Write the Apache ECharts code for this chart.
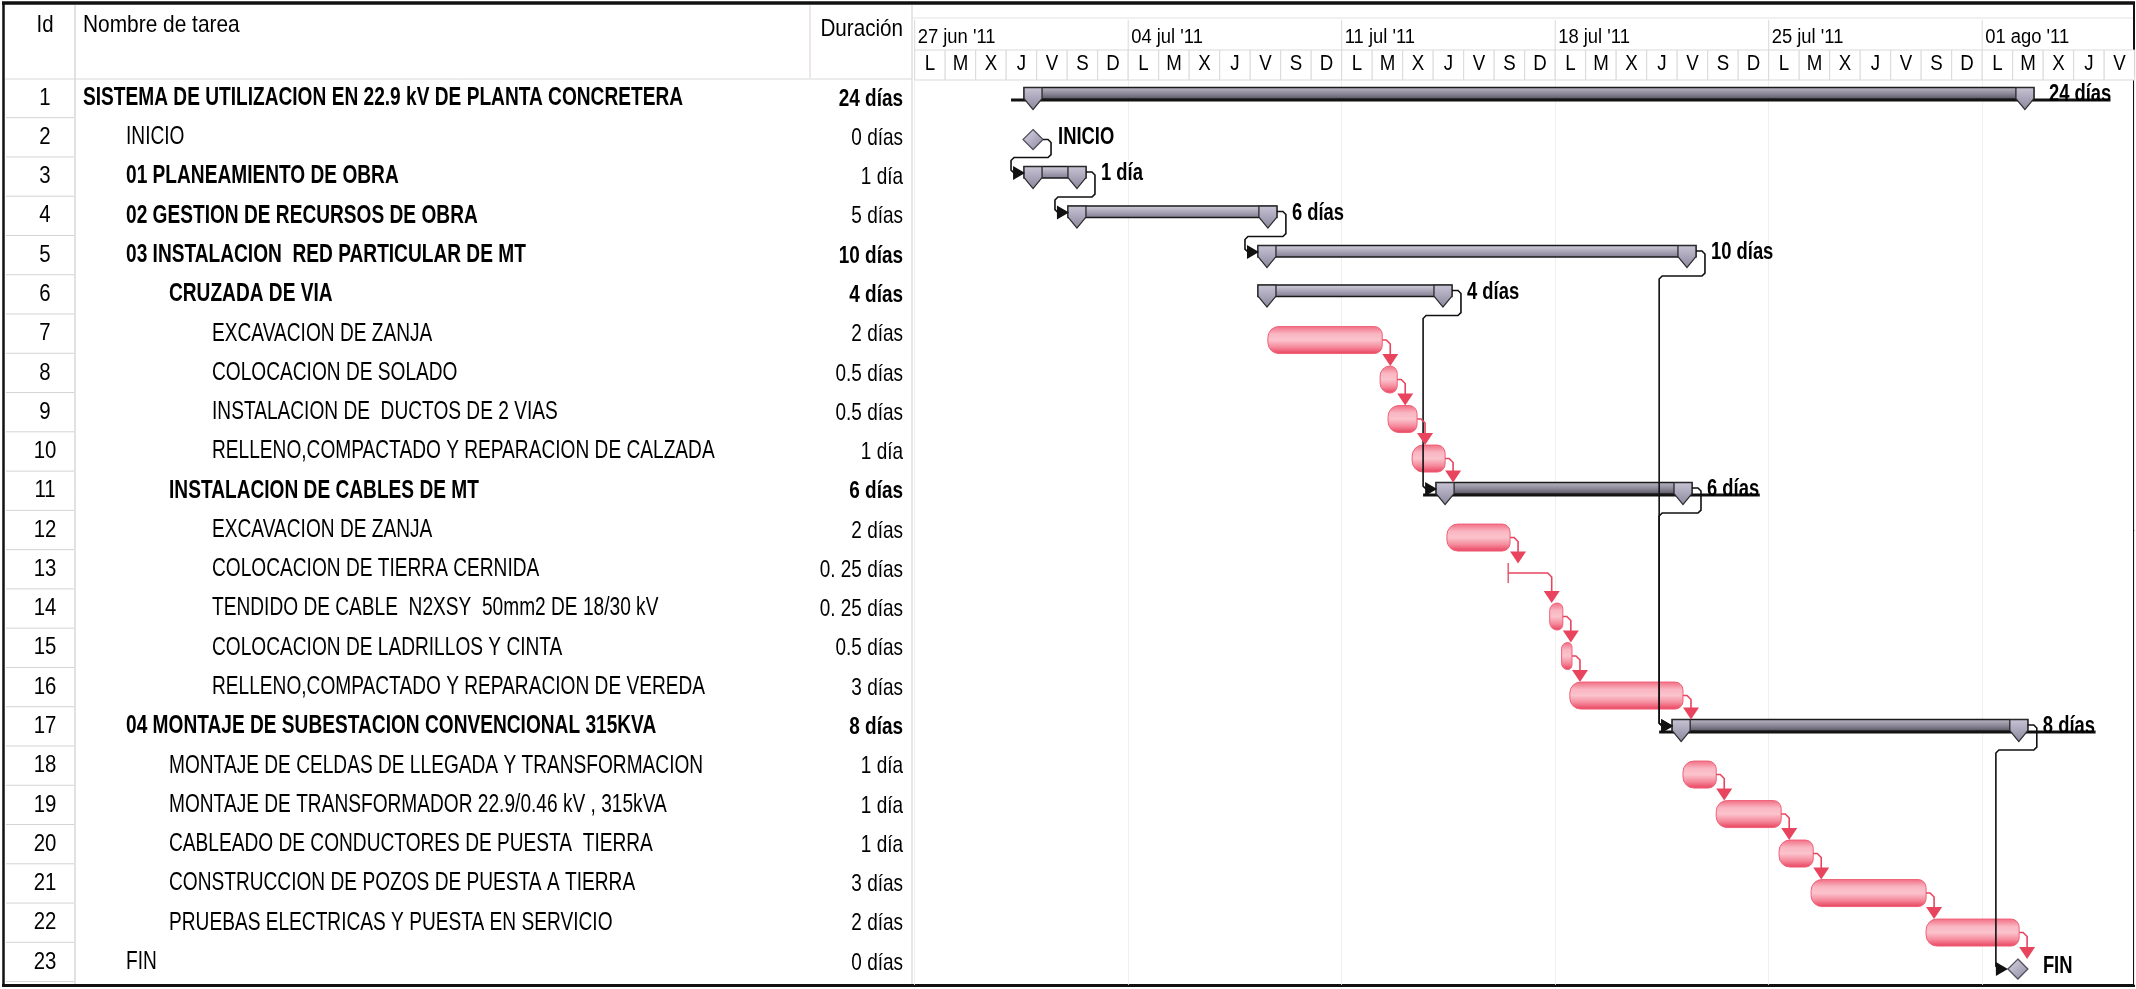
<!DOCTYPE html>
<html><head><meta charset="utf-8">
<script src="https://cdn.jsdelivr.net/npm/echarts@6/dist/echarts.min.js"></script>
<style>html,body{margin:0;padding:0;background:#fff}#c{width:2136px;height:989px}</style>
</head><body><div id="c"></div>
<script>
// ---------- DATA ----------
const ids = [1,2,3,4,5,6,7,8,9,10,11,12,13,14,15,16,17,18,19,20,21,22,23];
const names = [
  "SISTEMA DE UTILIZACION EN 22.9 kV DE PLANTA CONCRETERA",
  "INICIO",
  "01 PLANEAMIENTO DE OBRA",
  "02 GESTION DE RECURSOS DE OBRA",
  "03 INSTALACION  RED PARTICULAR DE MT",
  "CRUZADA DE VIA",
  "EXCAVACION DE ZANJA",
  "COLOCACION DE SOLADO",
  "INSTALACION DE  DUCTOS DE 2 VIAS",
  "RELLENO,COMPACTADO Y REPARACION DE CALZADA",
  "INSTALACION DE CABLES DE MT",
  "EXCAVACION DE ZANJA",
  "COLOCACION DE TIERRA CERNIDA",
  "TENDIDO DE CABLE  N2XSY  50mm2 DE 18/30 kV",
  "COLOCACION DE LADRILLOS Y CINTA",
  "RELLENO,COMPACTADO Y REPARACION DE VEREDA",
  "04 MONTAJE DE SUBESTACION CONVENCIONAL 315KVA",
  "MONTAJE DE CELDAS DE LLEGADA Y TRANSFORMACION",
  "MONTAJE DE TRANSFORMADOR 22.9/0.46 kV , 315kVA",
  "CABLEADO DE CONDUCTORES DE PUESTA  TIERRA",
  "CONSTRUCCION DE POZOS DE PUESTA A TIERRA",
  "PRUEBAS ELECTRICAS Y PUESTA EN SERVICIO",
  "FIN"
];
const levels   = [0,1,1,1,1,2,3,3,3,3,2,3,3,3,3,3,1,2,2,2,2,2,1];
const nameBold = [1,0,1,1,1,1,0,0,0,0,1,0,0,0,0,0,1,0,0,0,0,0,0];
const durations = ["24 días","0 días","1 día","5 días","10 días","4 días","2 días","0.5 días","0.5 días","1 día",
  "6 días","2 días","0. 25 días","0. 25 días","0.5 días","3 días","8 días","1 día","1 día","1 día","3 días","2 días","0 días"];
const durBold  = [1,0,0,0,1,1,0,0,0,0,1,0,0,0,0,0,1,0,0,0,0,0,0];
// bar kind: sumU = summary (underlined), sum = summary, task = critical task, mile = milestone
const types = ["sumU","mile","sum","sum","sum","sum","task","task","task","task","sumU","task","task","task","task","task","sumU","task","task","task","task","task","mile"];
// start / end in days from Mon 27 jun '11
const starts = [3.88,3.88,3.88,5.32,11.55,11.55,11.58,15.26,15.52,16.31,17.39,17.45,19.46,20.82,21.21,21.48,25.13,25.19,26.28,28.34,29.39,33.16,36.17];
const ends   = [36.40,3.88,5.32,11.58,25.32,17.32,15.33,15.82,16.47,17.39,25.19,19.52,19.46,21.25,21.55,25.19,36.20,26.28,28.41,29.46,33.16,36.21,36.17];
const barLabels = ["24 días","INICIO","1 día","6 días","10 días","4 días","","","","","6 días","","","","","","8 días","","","","","","FIN"];
const links = [[2,3],[3,4],[4,5],[6,11],[5,17],[11,17],[7,8],[8,9],[9,10],[10,11],[12,13],[13,14],[14,15],[15,16],[16,17],
  [18,19],[19,20],[20,21],[21,22],[22,23],[17,23]];
const dayLetters = ["L","M","X","J","V","S","D","L","M","X","J","V","S","D","L","M","X","J","V","S","D",
  "L","M","X","J","V","S","D","L","M","X","J","V","S","D","L","M","X","J","V"];
const weekLabels = ["27 jun '11","04 jul '11","11 jul '11","18 jul '11","25 jul '11","01 ago '11"];
const headers = ["Id","Nombre de tarea","Duración"];

// ---------- STYLE / LAYOUT ----------
const FR = '"Liberation Sans",Arial,sans-serif';
const GL = 914.7, GW = 1220;
const TT = 78.4, TH = 903.2;      // table rows
const GT = 76.3, GH = 908.5;      // gantt rows
const G = echarts.graphic;
const redGrad = new G.LinearGradient(0,0,0,1,[{offset:0,color:'#f26b82'},{offset:0.28,color:'#f9b6c2'},{offset:0.5,color:'#fbc3cc'},{offset:0.75,color:'#f58b9d'},{offset:1,color:'#e9405b'}]);
const sumGrad = new G.LinearGradient(0,0,0,1,[{offset:0,color:'#d6d3df'},{offset:0.5,color:'#aaa6b8'},{offset:1,color:'#7e798f'}]);
const sumUGrad = new G.LinearGradient(0,0,0,1,[{offset:0,color:'#bdbac6'},{offset:0.5,color:'#8e8a9a'},{offset:1,color:'#55525e'}]);
const shGrad = new G.LinearGradient(0,0,0,1,[{offset:0,color:'#c9c5d6'},{offset:1,color:'#8a859c'}]);
const diaGrad = new G.LinearGradient(0,0,1,1,[{offset:0,color:'#dcd9e6'},{offset:1,color:'#8c879f'}]);
const RED = '#e8445e';

function T(text, x, y, o){
  return {type:'text', x:x, y:y, scaleX:o.sx, silent:true,
    style:{text:text, x:0, y:0, align:o.align||'left', verticalAlign:'middle',
      fontSize:o.size, fontWeight:o.bold?'bold':'normal', fontFamily:FR, fill:'#000'}};
}

const chart = echarts.init(document.getElementById('c'), null, {renderer:'canvas', width:2136, height:989});

function tableItem(params, api){
  const i = params.dataIndex;
  const y = api.coord([0, i])[1], x0 = params.coordSys.x;
  const h = api.size([0,1])[1];
  return {type:'group', children:[
    {type:'line', shape:{x1:x0+6,y1:y+h/2,x2:x0+74,y2:y+h/2}, style:{stroke:'#d4d4d4',lineWidth:1}},
    T(String(ids[i]), x0+45, y, {align:'center', size:24, sx:0.85}),
    T(names[i], x0+83+43*levels[i], y, {size:25, sx:0.765, bold:nameBold[i]}),
    T(durations[i], x0+903, y+1, {align:'right', size:24, sx:0.79, bold:durBold[i]})
  ]};
}

function ganttItem(params, api){
  const i = params.dataIndex;
  const s = api.coord([api.value(0), i]);
  const e = api.coord([api.value(1), i]);
  const y = s[1], t = types[i];
  const ch = [];
  if (t === 'task'){
    if (e[0]-s[0] < 1){
      ch.push({type:'line', shape:{x1:s[0],y1:y-7,x2:s[0],y2:y+13}, style:{stroke:'#e06878',lineWidth:1.6}});
    } else {
      ch.push({type:'rect', shape:{x:s[0], y:y-6.5, width:e[0]-s[0], height:27, r:[11,8,8,11]}, style:{fill:redGrad, stroke:'#ef6178', lineWidth:1}});
    }
  } else if (t === 'mile'){
    const cy = y+4;
    ch.push({type:'polygon', shape:{points:[[s[0],cy-10],[s[0]+10,cy],[s[0],cy+10],[s[0]-10,cy]]}, style:{fill:diaGrad, stroke:'#54505f', lineWidth:1.3}});
    ch.push(T(barLabels[i], s[0]+25, y+2, {bold:true, size:23, sx:0.8}));
  } else {
    const top = y-8.5;
    const lx = e[0]+24;
    if (t === 'sumU'){
      const w = barLabels[i].length*8.8;
      ch.push({type:'line', shape:{x1:s[0]-22,y1:y+4,x2:lx+w,y2:y+4}, style:{stroke:'#111',lineWidth:3}});
    }
    ch.push({type:'rect', shape:{x:s[0]-9, y:top, width:e[0]-s[0]+18, height:11.5}, style:{fill:t==='sumU'?sumUGrad:sumGrad, stroke:'#1a1a1a', lineWidth:1.5}});
    [s[0], e[0]].forEach(function(x){
      ch.push({type:'polygon', shape:{points:[[x-9,top],[x+9,top],[x+9,top+11],[x,top+22],[x-9,top+11]]}, style:{fill:shGrad, stroke:'#2a2a2a', lineWidth:1.3}});
    });
    ch.push(T(barLabels[i], lx, y-1, {bold:true, size:23, sx:0.8}));
  }
  return {type:'group', children:ch};
}

const linkData = links.map(function(l){ return [ends[l[0]-1], l[0]-1, starts[l[1]-1], l[1]-1]; });

function linkItem(params, api){
  const a = api.value(1), b = api.value(3);
  const pe = api.coord([api.value(0), a]);
  const ss = api.coord([api.value(2), b]);
  const ch = [];
  if (types[a] !== 'task'){
    const sx0 = types[a]==='mile' ? pe[0]+10 : pe[0]+9;
    const sy0 = types[a]==='mile' ? pe[1]+4 : pe[1]-3;
    const hx = pe[0]+18, ym = pe[1]+22, vx = ss[0]-22;
    const ay = types[b]==='mile' ? ss[1]+4 : ss[1]-2;
    const tip = types[b]==='mile' ? ss[0]-10 : ss[0]-8;
    ch.push({type:'polyline', shape:{points:[[sx0,sy0],[hx-3,sy0],[hx,sy0+3],[hx,ym-3],[hx-3,ym],[vx+3,ym],[vx,ym+3],[vx,ay-3],[vx+3,ay],[tip-10,ay]]}, style:{stroke:'#111',lineWidth:1.6,fill:null}});
    ch.push({type:'polygon', shape:{points:[[tip-12,ay-7],[tip,ay],[tip-12,ay+7]]}, style:{fill:'#111'}});
  } else {
    const zero = (ends[a]-starts[a]) < 0.01;
    const sy0 = zero ? pe[1]+3 : pe[1]+7;
    const ax = Math.max(pe[0]+8, ss[0]+2);
    const top = types[b]==='task' ? ss[1]-6.5 : (types[b]==='mile' ? ss[1]-6 : ss[1]-8.5);
    ch.push({type:'polyline', shape:{points:[[pe[0],sy0],[ax-4,sy0],[ax,sy0+4],[ax,top-10]]}, style:{stroke:RED,lineWidth:1.6,fill:null}});
    ch.push({type:'polygon', shape:{points:[[ax-8,top-12],[ax+8,top-12],[ax,top]]}, style:{fill:RED}});
  }
  return {type:'group', children:ch};
}

function dayItem(params, api){
  const d = params.dataIndex;
  const p0 = api.coord([d, 1]), p1 = api.coord([d+1, 2]);
  return {type:'group', children:[
    {type:'rect', shape:{x:p0[0], y:p0[1], width:p1[0]-p0[0], height:p1[1]-p0[1]}, style:{fill:'#fff', stroke:'#d9d9d9', lineWidth:1}},
    T(dayLetters[d], (p0[0]+p1[0])/2, (p0[1]+p1[1])/2-1, {align:'center', size:22, sx:0.85})
  ]};
}

function weekItem(params, api){
  const k = params.dataIndex;
  const p0 = api.coord([api.value(0), 0]), p1 = api.coord([api.value(0), 1]);
  return {type:'group', children:[
    {type:'line', shape:{x1:p0[0],y1:p0[1],x2:p1[0],y2:p1[1]}, style:{stroke:'#d9d9d9',lineWidth:1}},
    T(weekLabels[k], p0[0]+3, (p0[1]+p1[1])/2+2, {size:20, sx:0.92})
  ]};
}

const option = {
  animation:false,
  backgroundColor:'#fff',
  grid:[
    {left:0, top:TT, width:GL, height:TH},
    {left:GL, top:GT, width:GW, height:GH},
    {left:GL, top:20, width:GW, height:60}
  ],
  xAxis:[
    {gridIndex:0, type:'value', min:0, max:GL, show:false},
    {gridIndex:1, type:'value', min:0, max:40, interval:7, axisLine:{show:false}, axisTick:{show:false}, axisLabel:{show:false}, splitLine:{show:true, lineStyle:{color:'#f0f0f0', width:1}}},
    {gridIndex:2, type:'value', min:0, max:40, show:false}
  ],
  yAxis:[
    {gridIndex:0, type:'value', min:-0.5, max:22.5, inverse:true, show:false},
    {gridIndex:1, type:'value', min:-0.5, max:22.5, inverse:true, show:false},
    {gridIndex:2, type:'value', min:0, max:2, inverse:true, show:false}
  ],
  series:[
    {type:'custom', xAxisIndex:0, yAxisIndex:0, data:ids.map(function(v,i){return [0,i];}), encode:{x:0,y:1}, renderItem:tableItem, silent:true},
    {type:'custom', xAxisIndex:1, yAxisIndex:1, data:starts.map(function(s,i){return [s, ends[i], i];}), encode:{x:[0,1], y:2}, renderItem:ganttItem, silent:true},
    {type:'custom', xAxisIndex:1, yAxisIndex:1, data:linkData, encode:{x:[0,2], y:[1,3]}, renderItem:linkItem, silent:true},
    {type:'custom', xAxisIndex:2, yAxisIndex:2, data:dayLetters.map(function(l,d){return [d, d+1];}), encode:{x:[0,1]}, renderItem:dayItem, silent:true},
    {type:'custom', xAxisIndex:2, yAxisIndex:2, data:weekLabels.map(function(w,k){return [k*7];}), encode:{x:0}, renderItem:weekItem, silent:true}
  ],
  graphic:[
    {type:'line', shape:{x1:75,y1:5,x2:75,y2:984}, style:{stroke:'#c4c4c4',lineWidth:1}, silent:true},
    {type:'line', shape:{x1:810,y1:5,x2:810,y2:78}, style:{stroke:'#dccfdc',lineWidth:1}, silent:true},
    {type:'line', shape:{x1:912,y1:5,x2:912,y2:984}, style:{stroke:'#cfcfcf',lineWidth:1}, silent:true},
    {type:'line', shape:{x1:5,y1:79,x2:912,y2:79}, style:{stroke:'#d8d8d8',lineWidth:1}, silent:true},
    {type:'line', shape:{x1:912,y1:18,x2:2134,y2:18}, style:{stroke:'#e2e2e2',lineWidth:1}, silent:true},
    T(headers[0], 45, 25, {align:'center', size:24, sx:0.85}),
    T(headers[1], 83, 25, {size:24, sx:0.87}),
    T(headers[2], 903, 29, {align:'right', size:24, sx:0.86}),
    {type:'line', shape:{x1:2,y1:3,x2:2135,y2:3}, style:{stroke:'#111',lineWidth:3.5}, silent:true},
    {type:'line', shape:{x1:2,y1:985.5,x2:2135,y2:985.5}, style:{stroke:'#111',lineWidth:3}, silent:true},
    {type:'line', shape:{x1:3.5,y1:3,x2:3.5,y2:986}, style:{stroke:'#111',lineWidth:2.5}, silent:true},
    {type:'line', shape:{x1:2134,y1:3,x2:2134,y2:986}, style:{stroke:'#111',lineWidth:2}, silent:true}
  ]
};
chart.setOption(option);
</script>
</body></html>
